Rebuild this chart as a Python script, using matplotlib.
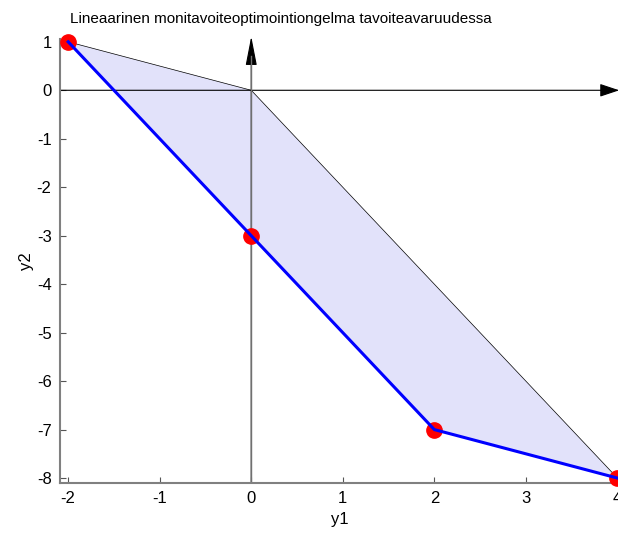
import matplotlib
matplotlib.use("Agg")
import matplotlib.pyplot as plt
from matplotlib.patches import Polygon

plt.rcParams["font.family"] = ["Liberation Sans", "DejaVu Sans"]
plt.rcParams["axes.unicode_minus"] = False

# feasible region in objective space (vertices)
region_y1 = [-2, 0, 4, 2, 0]
region_y2 = [1, 0, -8, -7, -3]

# Pareto front
front_y1 = [-2, 0, 2, 4]
front_y2 = [1, -3, -7, -8]

x_ticks = [-2, -1, 0, 1, 2, 3, 4]
y_ticks = [1, 0, -1, -2, -3, -4, -5, -6, -7, -8]

fig = plt.figure(figsize=(6.18, 5.33), dpi=100)
ax = fig.add_axes([0.097, 0.094, 0.905, 0.833])

poly = Polygon(list(zip(region_y1, region_y2)), closed=True,
               facecolor="#e2e2fa", edgecolor="black", linewidth=0.5)
ax.add_patch(poly)

ax.plot(front_y1, front_y2, "o", color="red", markersize=11, clip_on=False, zorder=3)
ax.plot(front_y1, front_y2, "-", color="blue", linewidth=2.2, clip_on=False, zorder=4)

# coordinate axes with arrow heads
ax.annotate("", xy=(4.02, 0), xytext=(-2.09, 0), annotation_clip=False,
            arrowprops=dict(arrowstyle="-|>,head_length=1.2,head_width=0.4",
                            color="black", lw=0.8, shrinkA=0, shrinkB=0), zorder=2)
ax.annotate("", xy=(0, 1.11), xytext=(0, -8.1), annotation_clip=False,
            arrowprops=dict(arrowstyle="-|>,head_length=1.8,head_width=0.35",
                            color="black", lw=0.8, shrinkA=0, shrinkB=0), zorder=2)
ax.plot([0, 0], [-8.1, 0.7], color="#707070", lw=1.0, zorder=2)

ax.set_xlim(-2.09, 4.02)
ax.set_ylim(-8.1, 1.06)
ax.set_xticks(x_ticks)
ax.set_yticks(y_ticks)
ax.tick_params(direction="in", length=4, labelsize=12, color="#555555", pad=6)

for side in ("top", "right"):
    ax.spines[side].set_visible(False)
for side in ("left", "bottom"):
    ax.spines[side].set_color("#808080")
    ax.spines[side].set_linewidth(1.5)

ax.set_xlabel("y1", fontsize=12, labelpad=4)
ax.set_ylabel("y2", fontsize=12, labelpad=2)
fig.text(281 / 618, 1 - 19 / 533,
         "Lineaarinen monitavoiteoptimointiongelma tavoiteavaruudessa",
         fontsize=11, ha="center", va="center")

fig.savefig("out.png", dpi=100)
